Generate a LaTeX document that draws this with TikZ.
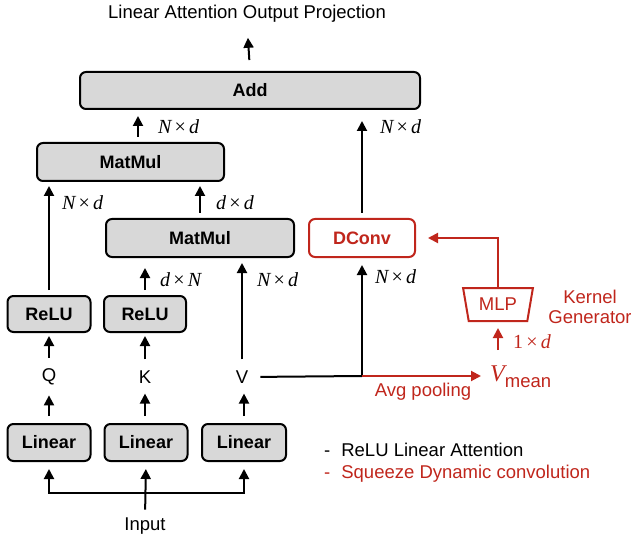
\documentclass[tikz,border=0pt]{standalone}
\usepackage{fontspec}
\setmainfont{Liberation Sans}
\newfontfamily\tms{Liberation Serif}
\usetikzlibrary{arrows.meta,shapes.geometric}
\definecolor{dred}{RGB}{192,38,28}
\definecolor{boxgray}{RGB}{216,216,216}
\newcommand{\bx}{\hspace{3.2pt}\upshape×\hspace{3.2pt}}
\begin{document}
\begin{tikzpicture}[x=1pt,y=-1pt,
  box/.style={draw=black, line width=2pt, rounded corners=6pt, fill=boxgray,
    minimum height=37pt, inner sep=0pt, font=\fontsize{18}{20}\selectfont\bfseries},
  lab/.style={font=\fontsize{18.5}{20}\selectfont, inner sep=0pt},
  dim/.style={font=\fontsize{20}{22}\selectfont\tms\itshape, inner sep=0pt, anchor=west},
  arr/.style={line width=2pt, -{Triangle[length=10pt,width=10pt]}},
  ln/.style={line width=2pt},
]
\useasboundingbox (0,0) rectangle (631,537);

% nodes
\node[lab] (title) at (247,14) {Linear Attention Output Projection};
\node[box, minimum width=340pt] (add) at (250,90.5) {Add};
\node[box, minimum width=187pt, minimum height=38pt] (mm1) at (130.5,162) {MatMul};
\node[box, minimum width=188pt, minimum height=38pt] (mm2) at (200,238) {MatMul};
\node[box, draw=dred, fill=white, text=dred, minimum width=106pt, minimum height=38pt] (dconv) at (362,238) {DConv};
\node[box, minimum width=83pt, minimum height=36pt] (relu1) at (49,314) {ReLU};
\node[box, minimum width=82pt, minimum height=36pt] (relu2) at (145,314) {ReLU};
\node[lab] (q) at (49,377) {Q};
\node[lab] (k) at (145,377) {K};
\node[lab] (v) at (242,377) {V};
\node[box, minimum width=83pt] (lin1) at (49,442.5) {Linear};
\node[box, minimum width=83pt] (lin2) at (146,442.5) {Linear};
\node[box, minimum width=84pt] (lin3) at (244,442.5) {Linear};
\node[lab] (input) at (145,526) {Input};

\node[trapezium, trapezium left angle=106, trapezium right angle=106, trapezium stretches=true,
  minimum width=70pt, minimum height=33pt, draw=dred, line width=2pt, fill=white, text=dred,
  inner sep=0pt, font=\fontsize{18.5}{20}\selectfont] (mlp) at (498,304.5) {MLP};
\node[lab, text=dred, align=center] (kg) at (590,307) {Kernel\\Generator};
\node[inner sep=0pt, anchor=base west, text=dred] (vmean) at (490,381)
  {{\fontsize{24}{26}\selectfont\tms\itshape V}\raisebox{-6pt}{\fontsize{18.5}{20}\selectfont mean}};
\node[lab, text=dred] (avg) at (423,392) {Avg pooling};

% dimension labels
\node[dim] (d1) at (158,127) {N\bx\itshape d};
\node[dim] (d2) at (380,127) {N\bx\itshape d};
\node[dim] (d3) at (62,203) {N\bx\itshape d};
\node[dim] (d4) at (216,203) {d\bx\itshape d};
\node[dim] (d5) at (160,280) {d\bx\itshape N};
\node[dim] (d6) at (257,280) {N\bx\itshape d};
\node[dim] (d7) at (375,277) {N\bx\itshape d};
\node[dim, text=dred] (d8) at (513,342) {\upshape 1\bx\itshape d};

% legend
\node[lab, anchor=base west] (leg1) at (324,456) {-\hspace{11pt}ReLU Linear Attention};
\node[lab, anchor=base west, text=dred] (leg2) at (324,478) {-\hspace{11pt}Squeeze Dynamic convolution};

\coordinate (j) at (362,376);
\coordinate (bus) at (146,493);

% connectors
\draw[arr, shorten <=11pt, shorten >=15pt] (add.north) -- (title.south);
\draw[arr, shorten <=5pt, shorten >=6pt] ([xshift=7.5pt]mm1.north) -- ([xshift=7.5pt]mm1.north |- add.south);
\draw[arr, shorten <=5pt, shorten >=11pt] (dconv.north) -- (dconv.north |- add.south);
\draw[arr, shorten <=5pt, shorten >=4pt] (relu1.north) -- (relu1.north |- mm1.south);
\draw[arr, shorten <=5pt, shorten >=4pt] (mm2.north) -- (mm2.north |- mm1.south);
\draw[arr, shorten <=5pt, shorten >=10pt] (relu2.north) -- (relu2.north |- mm2.south);
\draw[arr, shorten <=11pt, shorten >=5pt] (v.north) -- (v.north |- mm2.south);
\draw[arr, shorten <=11pt, shorten >=3pt] (q.north) -- (relu1.south);
\draw[arr, shorten <=11pt, shorten >=3pt] (k.north) -- (relu2.south);
\draw[arr, shorten <=7pt, shorten >=10pt] (lin1.north) -- (q.south);
\draw[arr, shorten <=7pt, shorten >=10pt] (lin2.north -| k) -- (k.south);
\draw[arr, shorten <=7pt, shorten >=10pt] (lin3.north) -- (lin3.north |- v.south);
\draw[ln, shorten <=12pt] (v.east) -- (j);
\draw[arr, shorten >=7pt] (j) -- (dconv.south);
\draw[arr, dred, shorten >=9pt] (j) -- (j -| vmean.west);
\draw[arr, dred, shorten >=12pt] (mlp.north) |- (dconv.east);
\draw[arr, dred, shorten <=15pt, shorten >=6pt] (mlp.south |- vmean.north) -- (mlp.south);
\draw[{Triangle[length=10pt,width=10pt]}-{Triangle[length=10pt,width=10pt]}, ln,
  shorten <=7pt, shorten >=7pt] (lin1.south) -- (lin1.south |- bus) -- (lin3.south |- bus) -- (lin3.south);
\draw[arr, shorten <=8pt, shorten >=7pt] (input.north) -- (lin2.south);
\end{tikzpicture}
\end{document}
